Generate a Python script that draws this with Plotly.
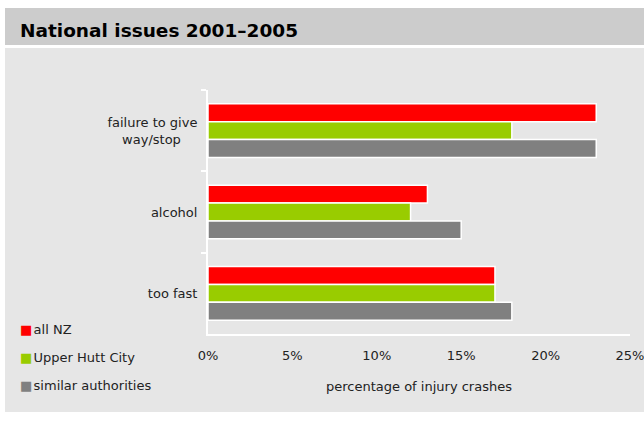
import plotly.graph_objects as go

NB = "\u00a0"
categories = ["failure to give<br>way/stop" + NB * 4, "alcohol", "too fast"]
series_names = ["all NZ", "Upper Hutt City", "similar authorities"]
all_nz = [23, 13, 17]
upper_hutt = [18, 12, 17]
similar = [23, 15, 18]
colors = ["#ff0000", "#99cc00", "#808080"]
x_ticks = [0, 5, 10, 15, 20, 25]

W, H = 644, 421
L, R, T, B = 208, 14, 90, 87
pw, ph = W - L - R, H - T - B

def px_x(p):
    return (p - L) / pw

def px_y(p):
    return (H - B - p) / ph

fig = go.Figure()
for name, vals, col in zip(series_names, [all_nz, upper_hutt, similar], colors):
    fig.add_trace(go.Bar(
        y=categories, x=vals, orientation="h", name=name,
        marker=dict(color=col, line=dict(color="white", width=1.5)),
        showlegend=False,
    ))
    fig.add_trace(go.Scatter(
        x=[None], y=[None], mode="markers",
        name=f'<span style="color:{col}">■</span>\u200a{name}',
        marker=dict(symbol="square", size=1, color="rgba(0,0,0,0)", opacity=0),
        legendgroup=name, showlegend=True,
    ))

shapes = [
    dict(type="rect", xref="paper", yref="paper", x0=px_x(5), x1=px_x(644), y0=px_y(45), y1=px_y(8),
         fillcolor="#cccccc", line=dict(width=0), layer="below"),
    dict(type="rect", xref="paper", yref="paper", x0=px_x(5), x1=px_x(644), y0=px_y(412), y1=px_y(48),
         fillcolor="#e6e6e6", line=dict(width=0), layer="below"),
]

fig.update_layout(
    width=W, height=H,
    margin=dict(l=L, r=R, t=T, b=B, autoexpand=False),
    paper_bgcolor="white",
    plot_bgcolor="rgba(0,0,0,0)",
    font=dict(family="DejaVu Sans, Verdana, sans-serif", size=13, color="#222222"),
    barmode="group", bargap=0.34, bargroupgap=0,
    shapes=shapes,
    showlegend=True,
    legend=dict(x=px_x(-20), y=px_y(314), xanchor="left", yanchor="top",
                bgcolor="rgba(0,0,0,0)", font=dict(size=13), tracegroupgap=8,
                itemwidth=30),
    annotations=[dict(text="<b>National issues 2001–2005</b>", xref="paper", yref="paper",
                      x=px_x(18), y=px_y(31), xanchor="left", yanchor="middle",
                      showarrow=False, font=dict(size=18.5, color="black"))],
    xaxis=dict(range=[0, 25], tickvals=x_ticks, ticktext=[f"{v}%" for v in x_ticks],
               showgrid=False, zeroline=False, showline=True, linecolor="white", linewidth=2,
               ticks="", ticklabelstandoff=8, automargin=False, ticklabeloverflow="allow",
               title=dict(text="percentage of injury crashes", standoff=20, font=dict(size=13))),
    yaxis=dict(autorange="reversed", showgrid=False, zeroline=False, showline=True,
               linecolor="white", linewidth=2, ticks="outside", tickson="boundaries",
               ticklen=5, tickcolor="white", tickwidth=2, ticklabelstandoff=6, automargin=False),
)

fig.write_html("out.html")
